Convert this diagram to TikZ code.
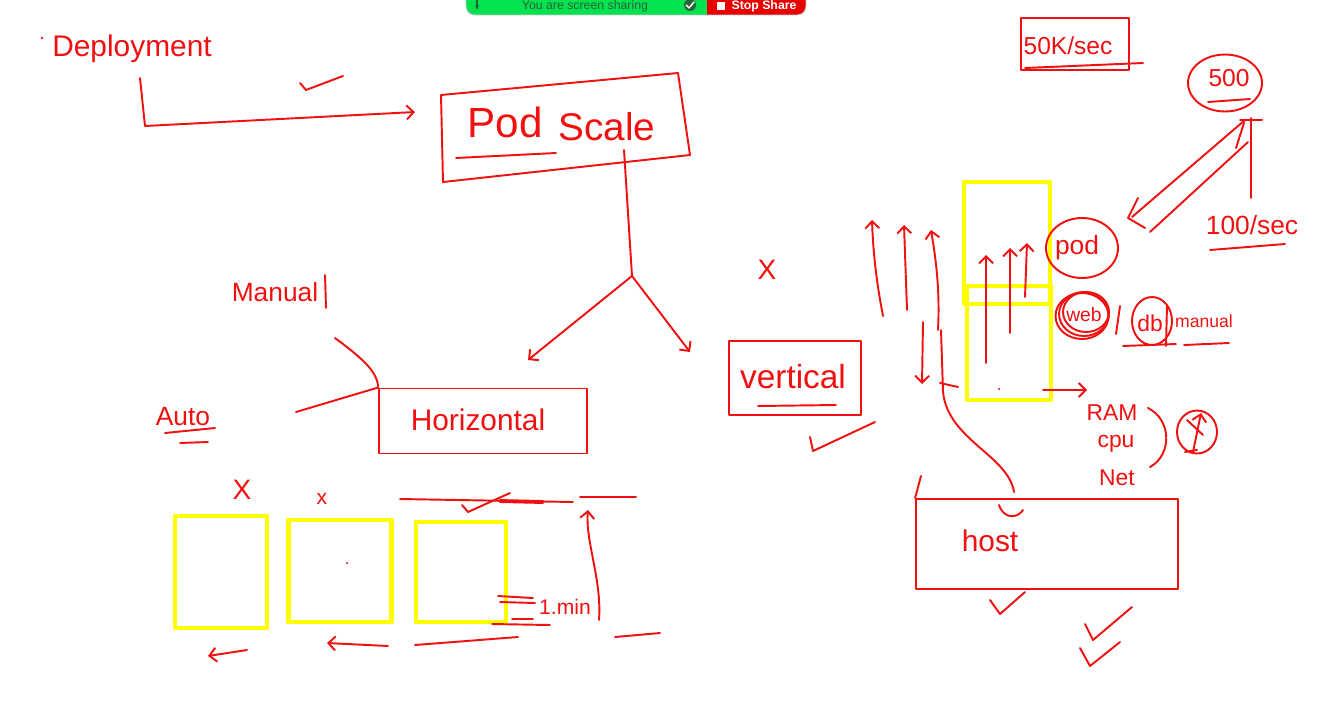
\documentclass[tikz,border=0pt]{standalone}
\usepackage{fontspec}
\setmainfont{Liberation Sans}
\usepackage{xcolor}
\usetikzlibrary{arrows,arrows.meta,shapes.geometric}
\definecolor{Pen}{RGB}{240,16,16}
\definecolor{Marker}{RGB}{255,255,0}
\definecolor{BarGreen}{RGB}{4,226,80}
\definecolor{BarRed}{RGB}{232,0,0}
\definecolor{BarText}{RGB}{40,100,55}
\newcommand{\hand}[1]{\fontsize{#1}{#1}\selectfont}

\begin{document}
\begin{tikzpicture}[x=0.02cm,y=-0.02cm,>={Straight Barb[length=4pt,width=8pt]},line cap=round,line join=round]
 \tikzstyle{Ink}=[draw=Pen,line width=1.1pt]
 \tikzstyle{Word}=[text=Pen,inner sep=0pt]
 \tikzstyle{Box}=[draw=Pen,line width=1.1pt]
 \tikzstyle{Frame}=[draw=Marker,line width=2.8pt]
 \useasboundingbox (0,0) rectangle (1324,700);

 % screen sharing bar
 \begin{scope}
  \clip[rounded corners=5] (466,-14) rectangle (806,15);
  \fill[BarGreen] (466,-14) rectangle (707,15);
  \fill[BarRed] (707,-14) rectangle (806,15);
 \end{scope}
 \draw[gray!45,line width=0.5pt,rounded corners=5] (466,-14) rectangle (806,15);
 \node[text=BarText,font=\hand{7}] (sharing) at (585,6) {You are screen sharing};
 \node[text=white,font=\bfseries\hand{7}] (stop) at (764,6) {Stop Share};
 \fill[white] (717,2) rectangle (725,10);
 \fill[BarText] (690,5) circle (6);
 \draw[white,line width=0.8pt] (686,5) -- (689,8) -- (694,2);
 \draw[BarText,line width=1.6pt,-{Stealth[length=3pt]}] (477,-4) -- (477,10);

 % deployment
 \fill[Pen] (42,38) circle (1.3);
 \node[Word,font=\hand{17}] (deploy) at (132,49) {Deployment};
 \coordinate (deployFoot) at (140,78);
 \coordinate (deployTurn) at (145,126);
 \coordinate (deployTip) at (415,112);
 \draw[Ink,->] (deployFoot) -- (deployTurn) -- (deployTip);
 \draw[Ink] (300,83) -- (306,90) -- (343,76);

 % pod scale
 \draw[Ink] (441,95) -- (678,73) -- (690,155) -- (443,182) -- cycle;
 \node[Word,font=\hand{24}] (pod) at (505,122) {Pod};
 \node[Word,font=\hand{22}] (scale) at (607,127) {Scale};
 \draw[Ink] (456,158) -- (556,153);
 \coordinate (stem) at (624,150);
 \coordinate (fork) at (632,276);
 \coordinate (horizTip) at (528,360);
 \coordinate (vertTip) at (690,352);
 \draw[Ink] (stem) -- (fork);
 \draw[Ink,->] (fork) -- (horizTip);
 \draw[Ink,->] (fork) -- (vertTip);

 % horizontal
 \node[Word,font=\hand{15}] (manual) at (275,292) {Manual};
 \draw[Ink] (325,275) -- (326,308);
 \node[Word,font=\hand{15}] (auto) at (183,417) {Auto};
 \draw[Ink] (165,433) -- (215,428);
 \draw[Ink] (180,443) -- (208,442);
 \node[Box,minimum width=4.16cm,minimum height=1.3cm] (horizBox) at (483,421) {};
 \node[Word,font=\hand{17}] (horizontal) at (478,420) {Horizontal};
 \coordinate (manualEnd) at (335,338);
 \coordinate (autoEnd) at (296,412);
 \draw[Ink] (manualEnd) .. controls (362,358) and (378,372) .. (horizBox.north west);
 \draw[Ink] (autoEnd) -- (horizBox.north west);

 \node[Frame,minimum width=1.84cm,minimum height=2.24cm] (podA) at (221,572) {};
 \node[Frame,minimum width=2.06cm,minimum height=2.04cm] (podB) at (340,571) {};
 \node[Frame,minimum width=1.8cm,minimum height=2cm] (podC) at (461,572) {};
 \node[Word,font=\hand{16}] (crossA) at (242,490) {X};
 \node[Word,font=\hand{12}] (crossB) at (322,499) {x};
 \fill[Pen] (347,563) circle (1.2);

 \coordinate (lineStart) at (400,499);
 \coordinate (lineEnd) at (573,502);
 \draw[Ink] (lineStart) -- (lineEnd);
 \draw[Pen,line width=2.2pt] (500,501) -- (543,502);
 \draw[Ink] (462,505) -- (468,512) -- (510,493);
 \draw[Ink] (580,497) -- (636,497);
 \draw[Ink,->] (599,620) .. controls (602,580) and (585,540) .. (588,510);
 \draw[Ink] (498,596) -- (533,598);
 \draw[Ink] (500,602) -- (535,603);
 \draw[Ink] (512,619) -- (533,619);
 \draw[Ink] (492,624) -- (550,625);
 \node[Word,font=\hand{12}] (oneMin) at (565,607) {1.min};
 \draw[Ink,->] (247,650) -- (208,656);
 \draw[Ink,->] (388,646) -- (327,643);
 \draw[Ink] (415,645) -- (518,637);
 \draw[Ink] (615,637) -- (660,633);

 % vertical
 \node[Word,font=\hand{16}] (crossC) at (767,270) {X};
 \node[Box,minimum width=2.64cm,minimum height=1.48cm] (vertBox) at (795,378) {};
 \node[Word,font=\hand{19}] (vertical) at (793,377) {vertical};
 \draw[Ink] (758,406) -- (836,405);
 \draw[Ink] (810,437) -- (813,451) -- (875,422);

 \node[Frame,minimum width=1.72cm,minimum height=2.44cm] (upperFrame) at (1007,243) {};
 \node[Frame,minimum width=1.68cm,minimum height=2.28cm] (lowerFrame) at (1009,343) {};
 \draw[Ink,->] (986,363) -- (986,255);
 \draw[Ink,->] (1010,333) -- (1010,248);
 \draw[Ink,->] (1025,297) -- (1027,243);
 \draw[Ink,->] (1043,390) -- (1087,390);
 \fill[Pen] (999,389) circle (1.2);
 \draw[Ink,->] (883,316) .. controls (876,280) and (873,250) .. (872,220);
 \draw[Ink,->] (907,310) -- (904,225);
 \draw[Ink,->] (938,330) .. controls (940,290) and (936,260) .. (931,230);
 \draw[Ink,->] (923,322) -- (922,384);
 \draw[Ink] (941,330) -- (943,392);
 \draw[Ink] (940,383) -- (958,387);
 \draw[Ink] (943,392) .. controls (948,440) and (1008,455) .. (1014,492);
 \draw[Ink] (999,505) .. controls (1004,520) and (1018,518) .. (1023,510);

 \node[Word,font=\hand{15}] (podLabel) at (1077,248) {pod};
 \node[Box,ellipse,minimum width=1.44cm,minimum height=1.2cm] (podRing) at (1082,248) {};
 \node[Word,font=\hand{11}] (web) at (1084,315) {web};
 \node[Box,ellipse,minimum width=1cm,minimum height=0.88cm] (webRing) at (1084,314) {};
 \node[Box,ellipse,minimum width=0.92cm,minimum height=0.8cm] (webRingB) at (1086,312) {};
 \node[Box,ellipse,minimum width=1.06cm,minimum height=0.92cm] (webRingC) at (1082,316) {};
 \draw[Ink] (1120,306) -- (1116,334);
 \node[Word,font=\hand{13}] (db) at (1150,323) {db};
 \node[Box,ellipse,minimum width=0.8cm,minimum height=0.96cm] (dbRing) at (1152,321) {};
 \draw[Ink] (1167,305) -- (1166,346);
 \draw[Ink] (1123,346) -- (1176,344);
 \node[Word,font=\hand{10}] (manualNote) at (1204,321) {manual};
 \draw[Ink] (1184,345) -- (1229,343);

 \node[Word,font=\hand{13}] (ram) at (1112,413) {RAM};
 \node[Word,font=\hand{13}] (cpu) at (1116,444) {cpu};
 \node[Word,font=\hand{13}] (net) at (1117,478) {Net};
 \draw[Ink] (1148,408) .. controls (1172,420) and (1172,455) .. (1150,467);
 \node[Box,ellipse,minimum width=0.8cm,minimum height=0.86cm] (limitMark) at (1197,432) {};
 \draw[Ink,->] (1193,452) -- (1201,413);
 \draw[Ink] (1187,420) -- (1203,435);
 \draw[Ink] (1185,452) -- (1197,450);

 % host
 \node[Box,minimum width=5.24cm,minimum height=1.8cm] (hostBox) at (1047,544) {};
 \draw[Ink] (hostBox.north west) -- (921,476);
 \node[Word,font=\hand{17}] (host) at (990,541) {host};
 \draw[Ink] (990,600) -- (1000,614) -- (1025,592);
 \draw[Ink] (1085,624) -- (1093,640) -- (1132,607);
 \draw[Ink] (1080,648) -- (1090,666) -- (1120,642);

 % rates
 \node[Box,minimum width=2.16cm,minimum height=1.04cm] (rateBox) at (1075,44) {};
 \node[Word,font=\hand{14}] (rate) at (1068,46) {50K/sec};
 \draw[Ink] (1025,68) -- (1143,63);
 \node[Box,ellipse,minimum width=1.48cm,minimum height=1.14cm] (limitRing) at (1225,83) {};
 \node[Word,font=\hand{14}] (limit) at (1229,78) {500};
 \draw[Ink] (1208,102) -- (1250,99);
 \draw[Ink] (1245,120) -- (1132,217);
 \draw[Ink] (1248,142) -- (1150,232);
 \draw[Ink] (1138,198) -- (1128,218) -- (1145,228);
 \draw[Ink] (1251,118) -- (1251,198);
 \draw[Ink] (1240,120) -- (1262,120);
 \draw[Ink] (1236,148) -- (1244,123);
 \node[Word,font=\hand{15}] (perSec) at (1252,225) {100/sec};
 \draw[Ink] (1210,250) -- (1285,244);
\end{tikzpicture}
\end{document}
